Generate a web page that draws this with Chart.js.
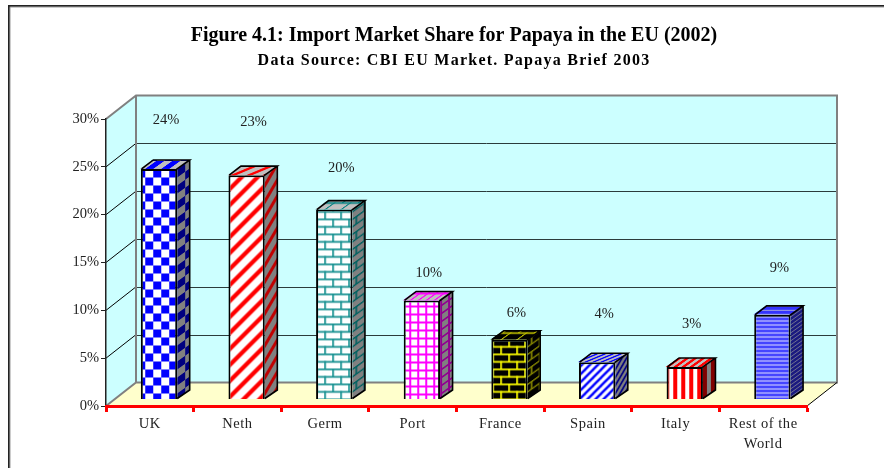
<!DOCTYPE html>
<html><head><meta charset="utf-8">
<style>html,body{margin:0;padding:0;background:#fff}canvas{display:block}</style>
<script src="https://cdn.jsdelivr.net/npm/chart.js@4/dist/chart.umd.min.js"></script>
</head><body>
<canvas id="c" width="884" height="468"></canvas>
<script>
const categories = ["UK","Neth","Germ","Port","France","Spain","Italy",["Rest of the","World"]];
const shares = [24.1,23.45,19.85,10.35,6.25,3.9,3.4,8.85];
const valueLabels = ["24%","23%","20%","10%","6%","4%","3%","9%"];
const labelLift = [48,52,41,27,26,48,42,46];
const titleText = "Figure 4.1: Import Market Share for Papaya in the EU (2002)";
const subtitleText = "Data Source: CBI EU Market. Papaya Brief 2003";

const SERIF = '"Liberation Serif"';
const WALL = {dx:30, dy:-23.5};
const BAR_SHIFT = {x:9.2, y:-6.5};
const BAR_DEPTH = {x:12.5, y:-9};

function tile(w,h,fg,bg,paint){
  const c=document.createElement('canvas');c.width=w;c.height=h;
  const g=c.getContext('2d');g.fillStyle=bg;g.fillRect(0,0,w,h);
  g.fillStyle=fg;g.strokeStyle=fg;paint(g,w,h);
  return g.createPattern(c,'repeat');
}
const paints={
  checker:[16,16,(g)=>{g.fillRect(0,0,8,8);g.fillRect(8,8,8,8);}],
  diagWide:[16,16,(g,w,h)=>{g.lineWidth=4.2;for(let k=-16;k<=32;k+=16){g.beginPath();g.moveTo(k-2,h+2);g.lineTo(k+h+2,-2);g.stroke();}}],
  diagThin:[8,8,(g,w,h)=>{g.lineWidth=2.4;for(let k=-8;k<=16;k+=8){g.beginPath();g.moveTo(k-2,h+2);g.lineTo(k+h+2,-2);g.stroke();}}],
  brick:[16,15,(g)=>{g.fillRect(0,0,16,1.7);g.fillRect(0,7.5,16,1.7);g.fillRect(3,0,1.7,8);g.fillRect(11,7.5,1.7,8);}],
  grid:[8,8,(g)=>{g.fillRect(0,0,8,2);g.fillRect(0,0,2,8);}],
  vert:[8,8,(g)=>{g.fillRect(0,0,4,8);}],
  horiz:[4,4,(g)=>{g.fillRect(0,0,4,3);}]
};
// kind, ink, paper, side ink, side paper, top ink, top paper
const skins=[
  ['checker','#0000FF','#FFFFFF','#000080','#808080','#0000FF','#C0C0C0'],
  ['diagWide','#FF0000','#FFFFFF','#C00000','#808080','#FF0000','#C0C0C0'],
  ['brick','#149090','#FFFFFF','#006060','#808080','#008080','#C0C0C0'],
  ['grid','#FF00FF','#FFFFFF','#900090','#808080','#FF00FF','#C0C0C0'],
  ['brick','#FFFF00','#000000','#808000','#000000','#C0C000','#000000'],
  ['diagThin','#0000FF','#FFFFFF','#000080','#808080','#0000FF','#C0C0C0'],
  ['vert','#FF0000','#FFFFFF','#800000','#808080','#FF0000','#C0C0C0'],
  ['horiz','#4444FF','#DDDDFF','#1A1A80','#707090','#3333FF','#A0A0E0']
];
const mk=(s,a,b)=>{const p=paints[s[0]];return tile(p[0],p[1],s[a],s[b],p[2]);};
const frontPatterns=skins.map(s=>mk(s,1,2));
const sidePatterns=skins.map(s=>mk(s,3,4));
const topPatterns=skins.map(s=>mk(s,5,6));

function spaced(ctx,obj,method,px){
  const orig=obj[method];
  obj[method]=function(a){ctx.save();ctx.letterSpacing=px;orig.call(this,a);ctx.restore();};
}

const stage={id:'stage',
  afterLayout(ch){
    // title block is centred on the plot frame, not on the canvas
    const blocks=ch.boxes.filter(b=>!b.axis&&b.options&&b.options.text);
    blocks.forEach(b=>{b.left=24;b.right=884;});
    const sub=blocks.find(b=>b.options.text===subtitleText);
    if(sub&&!sub.$sp){sub.$sp=1;spaced(ch.ctx,sub,'draw','1.25px');}
    const xs=ch.scales.x;
    if(!xs.$sp){xs.$sp=1;spaced(ch.ctx,xs,'drawLabels','0.55px');}
  },
  beforeDraw(ch){
    const c=ch.ctx,x=ch.scales.x,y=ch.scales.y;
    const L=x.left,R=x.right,T=y.getPixelForValue(30),B=y.getPixelForValue(0);
    const dx=WALL.dx,dy=WALL.dy;
    c.save();
    c.fillStyle='#fff';c.fillRect(0,0,ch.width,ch.height);
    // outer frame
    c.fillStyle='#9a9a9a';c.fillRect(9,6.5,875,1);c.fillRect(9.5,6,1,462);
    c.fillStyle='#222';c.fillRect(8,5,876,1.6);c.fillRect(8,5,1.6,463);
    // walls and floor
    c.fillStyle='#CCFFFF';
    c.fillRect(L+dx,T+dy,R-L,B-T);
    c.beginPath();c.moveTo(L,T);c.lineTo(L+dx,T+dy);c.lineTo(L+dx,B+dy);c.lineTo(L,B);c.closePath();c.fill();
    c.fillStyle='#FFFFCC';
    c.beginPath();c.moveTo(L,B);c.lineTo(L+dx,B+dy);c.lineTo(R+dx,B+dy);c.lineTo(R,B);c.closePath();c.fill();
    // gridlines
    c.lineWidth=1;
    y.ticks.forEach(t=>{
      const p=y.getPixelForValue(t.value);
      if(t.value>0&&t.value<30){
        c.strokeStyle='#000';c.beginPath();c.moveTo(L,p);c.lineTo(L+dx,p+dy);c.stroke();
        c.strokeStyle='#2b3b3b';c.beginPath();c.moveTo(L+dx,Math.round(p+dy)+.5);c.lineTo(R+dx,Math.round(p+dy)+.5);c.stroke();
      }
    });
    // gray wall edges
    c.strokeStyle='#808080';c.lineWidth=2;
    c.beginPath();c.moveTo(L,T);c.lineTo(L+dx,T+dy);c.lineTo(R+dx,T+dy);c.lineTo(R+dx,B+dy);c.lineTo(L+dx,B+dy);c.lineTo(L,B);
    c.moveTo(L+dx,T+dy);c.lineTo(L+dx,B+dy);c.stroke();
    c.strokeStyle='#000';c.lineWidth=1;
    c.beginPath();c.moveTo(R+dx,B+dy);c.lineTo(R,B);c.stroke();
    c.restore();
  },
  beforeDatasetDraw(ch){ch.ctx.save();ch.ctx.translate(BAR_SHIFT.x,BAR_SHIFT.y);},
  afterDatasetDraw(ch){
    const c=ch.ctx;
    ch.getDatasetMeta(0).data.forEach((b,i)=>{
      const l=b.x-b.width/2,r=b.x+b.width/2,t=b.y,bt=b.base,ddx=BAR_DEPTH.x,ddy=BAR_DEPTH.y;
      // right face
      c.save();c.transform(1,ddy/ddx,0,1,r,0);
      c.fillStyle=sidePatterns[i];c.fillRect(0,t,ddx,bt-t);c.restore();
      // top face
      c.save();c.transform(1,0,ddx/ddy,1,0,t);
      c.fillStyle=topPatterns[i];c.fillRect(l-1,ddy,b.width+1,-ddy);c.restore();
      c.save();c.strokeStyle='#000';c.lineWidth=1.6;c.lineJoin='miter';
      c.beginPath();
      c.moveTo(l+.8,t);c.lineTo(l+ddx,t+ddy);c.lineTo(r+ddx,t+ddy);c.lineTo(r-.8,t+.5);
      c.moveTo(r+ddx,t+ddy);c.lineTo(r+ddx,bt+ddy);c.lineTo(r,bt-.5);
      c.stroke();c.restore();
    });
    ch.ctx.restore();
    c.save();c.font='14.5px '+SERIF;c.fillStyle='#222';c.textAlign='center';c.textBaseline='middle';
    ch.getDatasetMeta(0).data.forEach((b,i)=>{
      c.fillText(valueLabels[i],b.x+BAR_SHIFT.x+7,b.y-7-labelLift[i]);
    });
    c.restore();
  }
};

new Chart(document.getElementById('c'),{
  type:'bar',
  data:{labels:categories,datasets:[{
    data:shares,
    backgroundColor:frontPatterns,
    borderColor:'#000',borderWidth:2,
    barPercentage:0.415,categoryPercentage:1,
    clip:false
  }]},
  plugins:[stage],
  options:{
    responsive:false,animation:false,devicePixelRatio:1,
    layout:{padding:{left:0,right:77,top:0,bottom:0}},
    events:[],
    plugins:{
      legend:{display:false},tooltip:{enabled:false},
      title:{display:true,text:titleText,color:'#000',
        font:{family:SERIF,size:20,weight:'bold',lineHeight:1.2},
        padding:{top:24,bottom:0}},
      subtitle:{display:true,text:subtitleText,color:'#000',
        font:{family:SERIF,size:16,weight:'bold',lineHeight:1.2},
        padding:{top:3,bottom:48.8}}
    },
    scales:{
      x:{
        afterFit(s){s.height=62;},
        border:{color:'#FF0000',width:3,z:1},
        grid:{display:true,drawOnChartArea:false,drawTicks:true,tickLength:6,tickWidth:3,tickColor:'#FF0000',offset:true},
        ticks:{color:'#222',font:{family:SERIF,size:14.5,lineHeight:1.33},padding:3,maxRotation:0,autoSkip:false}
      },
      y:{
        min:0,max:30,
        afterFit(s){s.width=106;},
        border:{color:'#222',width:1.5},
        grid:{drawOnChartArea:false,drawTicks:true,tickLength:5,tickColor:'#222'},
        ticks:{stepSize:5,color:'#222',font:{family:SERIF,size:14.5},padding:2,callback:v=>v+'%'}
      }
    }
  }
});
</script>
</body></html>
